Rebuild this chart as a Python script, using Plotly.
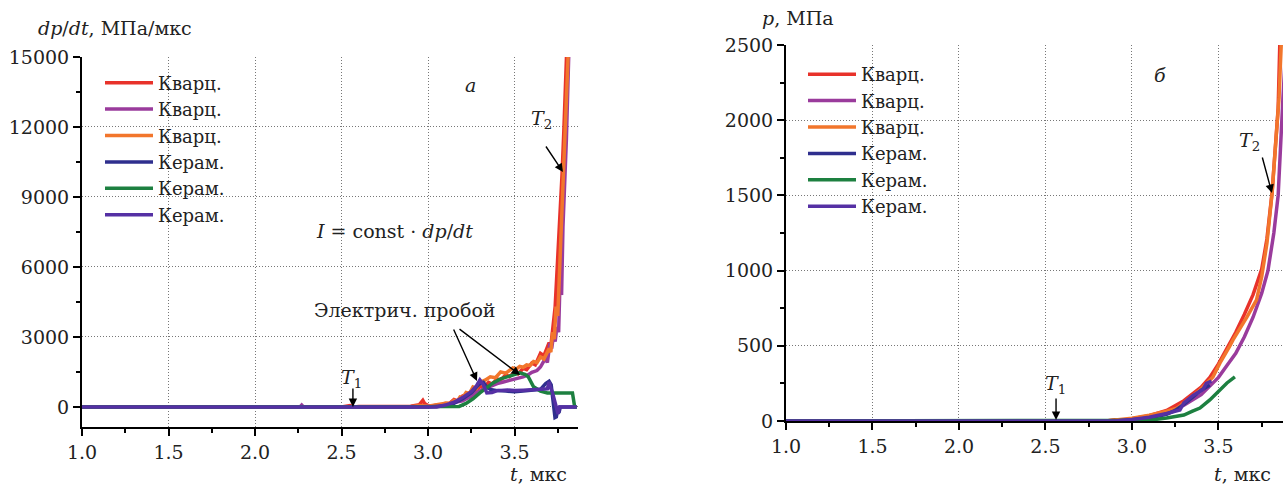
import plotly.graph_objects as go

SERIF = "DejaVu Serif"

# ---- panel a: dp/dt, MPa/us ----
names = ["Кварц.", "Кварц.", "Кварц.", "Керам.", "Керам.", "Керам."]
colors = ["#e8322a", "#9a3b9c", "#f2762c", "#2f2f8e", "#1d8040", "#5530a4"]

a_t_q1 = [1.0, 2.5, 2.55, 2.57, 2.6, 2.9, 2.95, 2.97, 2.98, 3.0, 3.02, 3.05, 3.08, 3.1, 3.12,
          3.15, 3.17, 3.2, 3.22, 3.25, 3.27, 3.3, 3.32, 3.35, 3.37, 3.4, 3.42, 3.45, 3.47,
          3.5, 3.52, 3.55, 3.57, 3.6, 3.62, 3.65, 3.67, 3.7, 3.71, 3.72, 3.735, 3.746, 3.76,
          3.775, 3.785, 3.8, 3.81]
a_v_q1 = [0, 0, 60, 0, 20, 30, 100, 280, 150, 60, 30, 80, 60, 150, 120,
          320, 260, 470, 420, 680, 640, 880, 820, 1050, 980, 1200, 1150, 1380, 1300,
          1480, 1420, 1650, 1600, 1880, 1800, 2300, 2200, 2750, 2600, 3300, 4300, 5870, 7600,
          10000, 11800, 15200, 17000]

a_t_q2 = [1.0, 2.26, 2.27, 2.28, 2.9, 3.0, 3.05, 3.1, 3.15, 3.2, 3.23, 3.25, 3.28, 3.3, 3.33,
          3.35, 3.38, 3.4, 3.43, 3.45, 3.49, 3.52, 3.55, 3.58, 3.6, 3.63, 3.65, 3.68, 3.69,
          3.705, 3.715, 3.725, 3.735, 3.745, 3.755, 3.763, 3.772, 3.78, 3.79, 3.8, 3.815, 3.83]
a_v_q2 = [0, 0, 80, 0, 10, 40, 60, 120, 180, 260, 380, 450, 620, 700, 800,
          850, 950, 1000, 1060, 1100, 1160, 1220, 1290, 1380, 1480, 1560, 1710, 2100, 1900,
          2740, 2500, 3050, 2800, 3430, 3200, 5400, 4800, 7700, 9300, 11500, 15500, 17500]

a_t_q3 = [1.0, 2.9, 2.95, 3.0, 3.05, 3.08, 3.11, 3.13, 3.15, 3.17, 3.185, 3.2, 3.22, 3.24,
          3.26, 3.28, 3.3, 3.33, 3.36, 3.39, 3.42, 3.45, 3.49, 3.51, 3.53, 3.55, 3.57, 3.59,
          3.61, 3.63, 3.65, 3.67, 3.7, 3.71, 3.72, 3.73, 3.74, 3.75, 3.76, 3.775, 3.79, 3.8,
          3.815]
a_v_q3 = [0, 10, 60, 30, 90, 130, 170, 150, 280, 250, 430, 400, 620, 580,
          860, 800, 1050, 1150, 1290, 1250, 1500, 1450, 1670, 1620, 1740, 1700, 1800, 1780,
          1950, 1900, 2140, 2050, 2500, 2350, 3200, 2900, 4300, 3900, 5800, 8000, 11000, 13000,
          16000]

a_t_c1 = [1.0, 3.0, 3.1, 3.15, 3.2, 3.25, 3.28, 3.3, 3.32, 3.34, 3.36, 3.4, 3.45, 3.5, 3.55,
          3.6, 3.65, 3.68, 3.7, 3.712, 3.72, 3.727, 3.734, 3.742, 3.75, 3.757, 3.765, 3.775,
          3.86]
a_v_c1 = [0, 0, 50, 150, 350, 600, 850, 1000, 1050, 850, 750, 700, 680, 650, 680,
          700, 750, 1000, 1100, 950, 500, 0, -450, -420, -100, -250, 0, 0,
          0]

a_t_c2 = [1.0, 3.1, 3.18, 3.22, 3.26, 3.3, 3.34, 3.376, 3.42, 3.457, 3.5, 3.53, 3.56, 3.58,
          3.61, 3.65, 3.69, 3.75, 3.8, 3.835, 3.842, 3.848, 3.86]
a_v_c2 = [0, 0, 20, 150, 350, 600, 850, 1030, 1200, 1290, 1400, 1460, 1400, 1290,
          860, 680, 600, 580, 600, 600, 300, 0, 0]

a_t_c3 = [1.0, 3.05, 3.1, 3.15, 3.2, 3.25, 3.28, 3.3, 3.32, 3.34, 3.37, 3.4, 3.46, 3.5,
          3.55, 3.61, 3.65, 3.69, 3.7, 3.705, 3.72, 3.73, 3.74, 3.752, 3.76, 3.86]
a_v_c3 = [0, 0, 80, 200, 400, 650, 900, 1160, 950, 600, 620, 700, 730, 700,
          720, 730, 760, 780, 1070, 900, 600, 300, 100, -300, 0, 0]

# ---- panel b: p, MPa ----
b_t_q1 = [1.0, 2.85, 2.9, 2.95, 3.0, 3.1, 3.2, 3.3, 3.4, 3.45, 3.5, 3.55, 3.6, 3.65, 3.7,
          3.75, 3.78, 3.81, 3.83, 3.845, 3.855, 3.87]
b_v_q1 = [0, 0, 8, 4, 15, 35, 70, 135, 225, 290, 380, 480, 590, 710, 840,
          1010, 1210, 1520, 1820, 2080, 2530, 2900]

b_t_q2 = [1.0, 2.9, 3.0, 3.1, 3.2, 3.3, 3.4, 3.5, 3.55, 3.6, 3.65, 3.7, 3.75, 3.786, 3.82,
          3.845, 3.873, 3.89]
b_v_q2 = [0, 0, 10, 25, 55, 105, 175, 290, 370, 450, 560, 690, 850, 1000, 1250,
          1500, 2155, 2500]

b_t_q3 = [1.0, 2.85, 3.0, 3.1, 3.2, 3.26, 3.3, 3.393, 3.468, 3.509, 3.566, 3.584, 3.665,
          3.72, 3.75, 3.78, 3.81, 3.83, 3.85, 3.87]
b_v_q3 = [0, 0, 18, 38, 65, 85, 120, 206, 293, 386, 500, 539, 692,
          805, 960, 1180, 1516, 1800, 2150, 2700]

b_t_c1 = [1.0, 2.9, 3.0, 3.1, 3.2, 3.25, 3.3, 3.35, 3.4, 3.45]
b_v_c1 = [0, 0, 8, 20, 45, 70, 110, 160, 205, 240]

b_t_c2 = [1.0, 3.0, 3.1, 3.2, 3.3, 3.35, 3.393, 3.45, 3.5, 3.549, 3.595]
b_v_c2 = [0, 0, 5, 20, 40, 65, 86, 140, 200, 253, 293]

b_t_c3 = [1.0, 2.9, 3.0, 3.1, 3.2, 3.277, 3.3, 3.353, 3.41, 3.43, 3.46]
b_v_c3 = [0, 0, 10, 25, 50, 73, 120, 170, 210, 250, 265]

t_ticks = [1.0, 1.5, 2.0, 2.5, 3.0, 3.5]
t_labels = ["1.0", "1.5", "2.0", "2.5", "3.0", "3.5"]
a_ticks = [0, 3000, 6000, 9000, 12000, 15000]
a_labels = ["0", "3000", "6000", "9000", "12000", "15000"]
b_ticks = [0, 500, 1000, 1500, 2000, 2500]
b_labels = ["0", "500", "1000", "1500", "2000", "2500"]

a_series = [(a_t_q1, a_v_q1), (a_t_q2, a_v_q2), (a_t_q3, a_v_q3),
            (a_t_c1, a_v_c1), (a_t_c2, a_v_c2), (a_t_c3, a_v_c3)]
b_series = [(b_t_q1, b_v_q1), (b_t_q2, b_v_q2), (b_t_q3, b_v_q3),
            (b_t_c1, b_v_c1), (b_t_c2, b_v_c2), (b_t_c3, b_v_c3)]

W, H = 1283, 486

fig = go.Figure()
for (t, v), name, col in zip(a_series, names, colors):
    fig.add_trace(go.Scatter(x=t, y=v, mode="lines", name=name, xaxis="x", yaxis="y",
                             line=dict(color=col, width=3.5), legend="legend"))
for (t, v), name, col in zip(b_series, names, colors):
    fig.add_trace(go.Scatter(x=t, y=v, mode="lines", name=name, xaxis="x2", yaxis="y2",
                             line=dict(color=col, width=3.5), legend="legend2"))

tickfont = dict(family=SERIF, size=19, color="#222")
common = dict(showline=True, linecolor="black", linewidth=2, ticks="outside",
              tickwidth=2, ticklen=7, tickcolor="black", tickfont=tickfont,
              showgrid=True, gridcolor="#777777", griddash="1px,2px", gridwidth=1,
              zeroline=False, automargin=False)
minor_t = dict(dtick=0.25, tick0=1.0, ticks="outside", ticklen=4, tickwidth=2,
               tickcolor="black", showgrid=False)

def px(x0, x1):
    return [x0 / W, x1 / W]

def py(top, bottom):
    return [1 - bottom / H, 1 - top / H]

legend_font = dict(family=SERIF, size=18, color="#222")

fig.update_layout(
    width=W, height=H, margin=dict(l=0, r=0, t=0, b=0),
    plot_bgcolor="white", paper_bgcolor="white",
    xaxis=dict(domain=px(82, 578), range=[1.0, 3.867], tickvals=t_ticks, ticktext=t_labels,
               minor=minor_t, anchor="y", **common),
    yaxis=dict(domain=py(57, 427), range=[-860, 15000], tickvals=a_ticks, ticktext=a_labels,
               minor=dict(dtick=1500, tick0=0, ticks="outside", ticklen=4, tickwidth=2,
                          tickcolor="black", showgrid=False),
               anchor="x", **common),
    xaxis2=dict(domain=px(786, 1283), range=[1.0, 3.873], tickvals=t_ticks, ticktext=t_labels,
                minor=minor_t, anchor="y2", **common),
    yaxis2=dict(domain=py(45, 421), range=[0, 2500], tickvals=b_ticks, ticktext=b_labels,
                minor=dict(dtick=250, tick0=0, ticks="outside", ticklen=4, tickwidth=2,
                           tickcolor="black", showgrid=False),
                anchor="x2", **common),
    legend=dict(x=100 / W, y=1 - 64.5 / H, xanchor="left", yanchor="top",
                font=legend_font, bgcolor="rgba(0,0,0,0)", itemwidth=48, tracegroupgap=0),
    legend2=dict(x=803 / W, y=1 - 56 / H, xanchor="left", yanchor="top",
                 font=legend_font, bgcolor="rgba(0,0,0,0)", itemwidth=48, tracegroupgap=0),
    showlegend=True,
)

txt = dict(family=SERIF, size=19, color="#222")
ann = []

def paper_text(text, x, y, xanchor="center"):
    ann.append(dict(text=text, x=x / W, y=1 - y / H, xref="paper", yref="paper",
                    showarrow=False, xanchor=xanchor, yanchor="middle", font=txt))

def data_text(text, x, y, xr, yr):
    ann.append(dict(text=text, x=x, y=y, xref=xr, yref=yr, showarrow=False,
                    xanchor="center", yanchor="middle", font=txt))

def arrow(x, y, ax, ay, xr, yr):
    ann.append(dict(text="", x=x, y=y, xref=xr, yref=yr, ax=ax, ay=ay, axref="pixel",
                    ayref="pixel", showarrow=True, arrowhead=2, arrowsize=1.2,
                    arrowwidth=1.4, arrowcolor="black"))

# axis titles
paper_text("<i>dp</i>/<i>dt</i>, МПа/мкс", 36, 28, "left")
paper_text("<i>p</i>, МПа", 760, 18, "left")
paper_text("<i>t</i>, мкс", 569, 474, "right")
paper_text("<i>t</i>, мкс", 1273, 474, "right")

# panel a labels
data_text("<i>а</i>", 3.243, 13800, "x", "y")
data_text("<i>T</i><sub>2</sub>", 3.655, 12300, "x", "y")
arrow(3.78, 10070, -18, -27, "x", "y")
data_text("<i>T</i><sub>1</sub>", 2.56, 1200, "x", "y")
arrow(2.566, 0, 0, -20, "x", "y")
data_text("<i>I</i> = const · <i>dp</i>/<i>dt</i>", 2.809, 7543, "x", "y")
data_text("Электрич. пробой", 2.867, 4157, "x", "y")
arrow(3.283, 1114, -24, -53, "x", "y")
arrow(3.532, 1371, -62, -47, "x", "y")

# panel b labels
data_text("<i>б</i>", 3.162, 2300, "x2", "y2")
data_text("<i>T</i><sub>2</sub>", 3.682, 1860, "x2", "y2")
arrow(3.809, 1516, -10, -37, "x2", "y2")
data_text("<i>T</i><sub>1</sub>", 2.555, 240, "x2", "y2")
arrow(2.561, 7, 0, -23, "x2", "y2")

fig.update_layout(annotations=ann)
fig.write_html("out.html")
